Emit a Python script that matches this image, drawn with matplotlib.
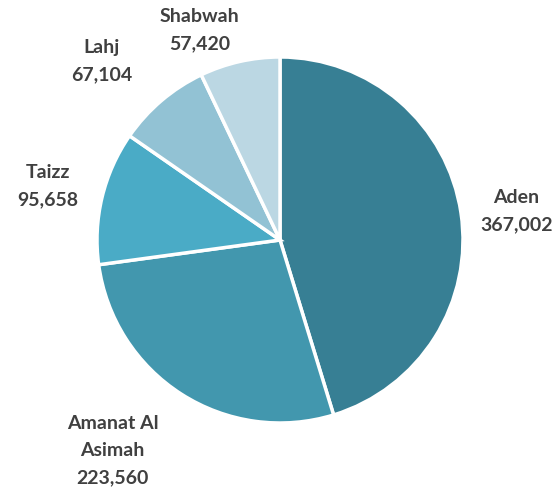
import numpy as np
import matplotlib.pyplot as plt

# data
regions = ['Aden', 'Amanat Al\nAsimah', 'Taizz', 'Lahj', 'Shabwah']
values = [367002, 223560, 95658, 67104, 57420]
colors = ['#377f94', '#4297ae', '#4aabc6', '#92c2d4', '#bbd7e3']

# label placement (distance from centre in radii, angle in degrees)
label_dist = [1.30, 1.47, 1.30, 1.38, 1.23]
label_angle = [7, -128.5, 167, 135, 111]

fig = plt.figure(figsize=(5.58, 4.9), dpi=100)
r_px = 183
cx, cy = 280, 240
ax = fig.add_axes([(cx - r_px) / 558, (490 - cy - r_px) / 490, 2 * r_px / 558, 2 * r_px / 490])

wedges, _ = ax.pie(values, colors=colors, startangle=90, counterclock=False,
                   radius=1, wedgeprops=dict(edgecolor='white', linewidth=2.5))
ax.set_xlim(-1, 1)
ax.set_ylim(-1, 1)
ax.set_aspect('equal')

for name, val, d, a in zip(regions, values, label_dist, label_angle):
    t = np.deg2rad(a)
    ax.text(d * np.cos(t), d * np.sin(t), f'{name}\n{val:,}', ha='center', va='center',
            fontsize=14, fontweight='bold', color='#404040', family='Lato',
            linespacing=1.75, clip_on=False)

fig.savefig('out.png', dpi=100, facecolor='white')
